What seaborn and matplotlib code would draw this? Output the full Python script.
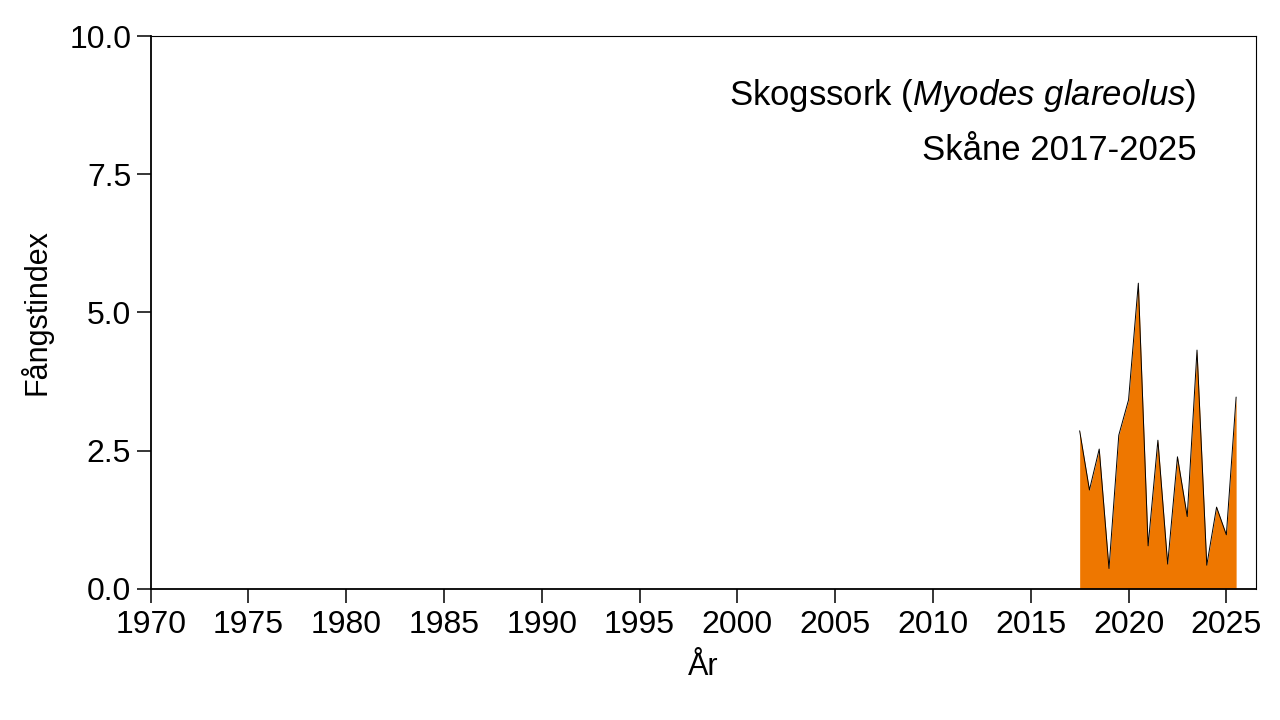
import numpy as np
import seaborn as sns
import matplotlib.pyplot as plt
import pandas as pd

# catch index, spring/autumn samples
years = [2017.5, 2018.0, 2018.5, 2019.0, 2019.5, 2020.0, 2020.5, 2021.0, 2021.5,
         2022.0, 2022.5, 2023.0, 2023.5, 2024.0, 2024.5, 2025.0, 2025.5]
index = [2.86, 1.79, 2.53, 0.37, 2.78, 3.42, 5.53, 0.78, 2.69,
         0.45, 2.39, 1.31, 4.32, 0.43, 1.48, 0.98, 3.47]
xticks = [1970, 1975, 1980, 1985, 1990, 1995, 2000, 2005, 2010, 2015, 2020, 2025]
yticks = [0.0, 2.5, 5.0, 7.5, 10.0]

sns.set_theme(style="ticks")
plt.rcParams['font.family'] = ['Liberation Sans', 'DejaVu Sans']
plt.rcParams['mathtext.fontset'] = 'custom'
plt.rcParams['mathtext.rm'] = 'Liberation Sans'
plt.rcParams['mathtext.it'] = 'Liberation Sans:italic'
plt.rcParams['text.color'] = 'black'
plt.rcParams['axes.labelcolor'] = 'black'
plt.rcParams['xtick.color'] = 'black'
plt.rcParams['ytick.color'] = 'black'

df = pd.DataFrame({"year": years, "index": index})

fig = plt.figure(figsize=(12.8, 7.2), dpi=100)
ax = fig.add_axes([0.1177, 0.182, 0.8633, 0.768])

ax.fill_between(df["year"], df["index"], 0, color="#EE7700", linewidth=0)
sns.lineplot(data=df, x="year", y="index", ax=ax, color="black", linewidth=0.7)

ax.set_xlim(1970, 2026.5)
ax.set_ylim(0, 10)
ax.set_xticks(xticks)
ax.set_yticks(yticks)
ax.set_yticklabels([f"{v:.1f}" for v in yticks])
ax.tick_params(labelsize=23, length=10, width=1.1)
ax.tick_params(axis="x", pad=5)
ax.tick_params(axis="y", pad=4)
ax.set_xlabel("År", fontsize=22, labelpad=9)
ax.set_ylabel("Fångstindex", fontsize=22, labelpad=12)

for side in ["left", "bottom"]:
    ax.spines[side].set_linewidth(1.3)
    ax.spines[side].set_color("black")
for side in ["top", "right"]:
    ax.spines[side].set_linewidth(0.8)
    ax.spines[side].set_color("black")
    ax.spines[side].set_visible(True)

ax.text(0.9466, 0.875, r"Skogssork ($\mathit{Myodes\ glareolus}$)",
        transform=ax.transAxes, ha="right", va="baseline", fontsize=25)
ax.text(0.9466, 0.776, "Skåne 2017-2025", transform=ax.transAxes,
        ha="right", va="baseline", fontsize=25)

fig.savefig("out.png", dpi=100)
